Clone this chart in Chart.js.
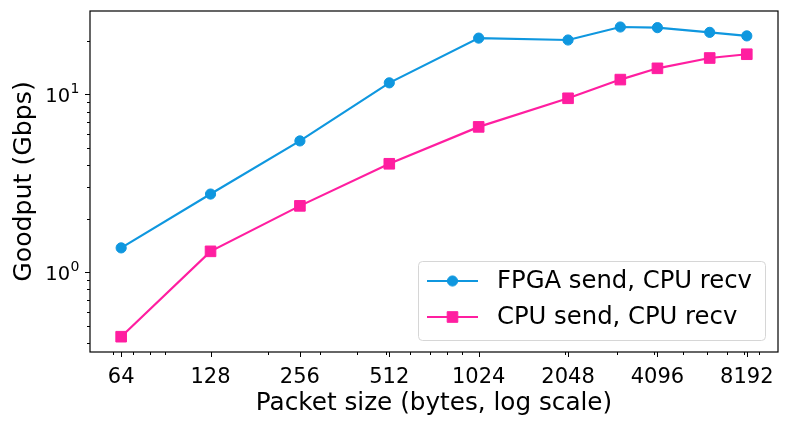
<!DOCTYPE html>
<html>
<head>
<meta charset="utf-8">
<script src="https://cdn.jsdelivr.net/npm/chart.js@4.4.1/dist/chart.umd.min.js"></script>
<style>
  html, body { margin: 0; padding: 0; background: #fff; }
  canvas { display: block; }
</style>
</head>
<body>
<canvas id="goodputChart" width="789" height="426"></canvas>
<script>
// packet sizes (bytes) and measured goodput (Gbps)
const packetSizes = [64, 128, 256, 512, 1024, 2048, 3072, 4096, 6144, 8192];
const fpgaSend = [1.37, 2.75, 5.47, 11.6, 20.7, 20.2, 23.9, 23.7, 22.3, 21.3];
const cpuSend = [0.434, 1.31, 2.36, 4.07, 6.56, 9.5, 12.1, 14.0, 16.0, 16.8];

const seriesNames = ['FPGA send, CPU recv', 'CPU send, CPU recv'];
const xTicks = [64, 128, 256, 512, 1024, 2048, 4096, 8192];
const yTicks = [1, 10];
const yTickExps = ['0', '1'];   // labels are 10^exp

const blue = '#0f97df';
const pink = '#ff1ea0';
const font = 'DejaVu Sans';

// base-10 minor ticks (2..9 x 10^k) inside a range
function minorTicks(min, max) {
    let out = [];
    for (let e = -2; e <= 5; e++) {
        for (let m = 2; m <= 9; m++) {
            let v = m * Math.pow(10, e);
            if (v > min && v < max) out.push(v);
        }
    }
    return out;
}

const xMin = 50.26, xMax = 10435;
const yMin = 0.356, yMax = 29.4;

// frame, matplotlib style tick marks and 10^n labels
const frameTicks = {
    id: 'frameTicks',
    afterDatasetsDraw(chart) {
        const {ctx, chartArea: a, scales: {x, y}} = chart;
        ctx.save();
        ctx.strokeStyle = '#000';
        ctx.lineWidth = 1;
        ctx.beginPath();
        xTicks.forEach(v => {
            let px = Math.round(x.getPixelForValue(v)) + 0.5;
            ctx.moveTo(px, a.bottom); ctx.lineTo(px, a.bottom + 5);
        });
        minorTicks(xMin, xMax).forEach(v => {
            let px = Math.round(x.getPixelForValue(v)) + 0.5;
            ctx.moveTo(px, a.bottom); ctx.lineTo(px, a.bottom + 3);
        });
        yTicks.forEach(v => {
            let py = Math.round(y.getPixelForValue(v)) + 0.5;
            ctx.moveTo(a.left, py); ctx.lineTo(a.left - 5, py);
        });
        minorTicks(yMin, yMax).forEach(v => {
            let py = Math.round(y.getPixelForValue(v)) + 0.5;
            ctx.moveTo(a.left, py); ctx.lineTo(a.left - 3, py);
        });
        ctx.stroke();
        ctx.lineWidth = 1.2;
        ctx.strokeRect(a.left, a.top, a.right - a.left, a.bottom - a.top);

        // y labels with a real superscript
        ctx.fillStyle = '#000';
        ctx.textBaseline = 'alphabetic';
        ctx.textAlign = 'left';
        yTicks.forEach((v, i) => {
            let py = y.getPixelForValue(v);
            ctx.font = '14px "' + font + '"';
            let wSup = ctx.measureText(yTickExps[i]).width;
            ctx.font = '19.5px "' + font + '"';
            let wBase = ctx.measureText('10').width;
            let left = a.left - 11 - wSup - wBase;
            ctx.fillText('10', left, py + 7.5);
            ctx.font = '14px "' + font + '"';
            ctx.fillText(yTickExps[i], left + wBase + 0.5, py - 1);
        });
        ctx.restore();
    }
};

// legend box in the lower right of the plot
const boxLegend = {
    id: 'boxLegend',
    afterDraw(chart) {
        const ctx = chart.ctx;
        const bx = 418, by = 261, bw = 347, bh = 79;
        ctx.save();
        ctx.fillStyle = 'rgba(255,255,255,0.8)';
        ctx.strokeStyle = '#d6d6d6';
        ctx.lineWidth = 1;
        ctx.beginPath();
        ctx.roundRect(bx + 0.5, by + 0.5, bw, bh, 4);
        ctx.fill();
        ctx.stroke();
        chart.data.datasets.forEach((ds, i) => {
            let rowY = by + 20 + i * 36;
            ctx.strokeStyle = ds.borderColor;
            ctx.fillStyle = ds.backgroundColor;
            ctx.lineWidth = ds.borderWidth;
            ctx.beginPath();
            ctx.moveTo(427, rowY); ctx.lineTo(478, rowY);
            ctx.stroke();
            ctx.lineWidth = 1;
            Chart.helpers.drawPoint(ctx, {
                pointStyle: ds.pointStyle, radius: ds.pointRadius, borderWidth: 1, rotation: 0
            }, 452.5, rowY);
            ctx.fillStyle = '#000';
            ctx.font = '24.3px "' + font + '"';
            ctx.textBaseline = 'middle';
            ctx.fillText(ds.label, 497, rowY + 1);
        });
        ctx.restore();
    }
};

const ctx = document.getElementById('goodputChart').getContext('2d');
const chart = new Chart(ctx, {
    type: 'line',
    data: {
        datasets: [{
            label: seriesNames[0],
            data: packetSizes.map((s, i) => ({x: s, y: fpgaSend[i]})),
            borderColor: blue,
            backgroundColor: blue,
            borderWidth: 2.2,
            pointStyle: 'circle',
            pointRadius: 5.1,
            pointBorderWidth: 1,
        }, {
            label: seriesNames[1],
            data: packetSizes.map((s, i) => ({x: s, y: cpuSend[i]})),
            borderColor: pink,
            backgroundColor: pink,
            borderWidth: 2.2,
            pointStyle: 'rect',
            pointRadius: 7.5,
            pointBorderWidth: 1,
        }]
    },
    options: {
        responsive: false,
        animation: false,
        layout: { padding: { left: 0, right: 11, top: 11, bottom: 0 } },
        plugins: { legend: { display: false }, tooltip: { enabled: false } },
        scales: {
            x: {
                type: 'logarithmic',
                min: xMin, max: xMax,
                afterBuildTicks: axis => { axis.ticks = xTicks.map(v => ({value: v})); },
                afterFit: axis => {
                    axis.height = 74;
                    axis.paddingLeft = 0; axis.paddingRight = 0;
                },
                grid: { display: false },
                border: { display: false },
                ticks: {
                    autoSkip: false, maxRotation: 0, padding: 5, color: '#000',
                    font: { family: font, size: 21 },
                    callback: v => String(v)
                },
                title: {
                    display: true, text: 'Packet size (bytes, log scale)', color: '#000',
                    font: { family: font, size: 24.7 }, padding: { top: 0, bottom: 8 }
                }
            },
            y: {
                type: 'logarithmic',
                min: yMin, max: yMax,
                afterBuildTicks: axis => { axis.ticks = yTicks.map(v => ({value: v})); },
                afterFit: axis => {
                    axis.width = 90;
                    axis.paddingTop = 0; axis.paddingBottom = 0;
                },
                grid: { display: false },
                border: { display: false },
                // drawn by frameTicks with a raised exponent
                ticks: { display: false },
                title: {
                    display: true, text: 'Goodput (Gbps)', color: '#000',
                    font: { family: font, size: 25.2 }, padding: { top: 9, bottom: 0 }
                }
            }
        }
    },
    plugins: [frameTicks, boxLegend]
});
</script>
</body>
</html>
